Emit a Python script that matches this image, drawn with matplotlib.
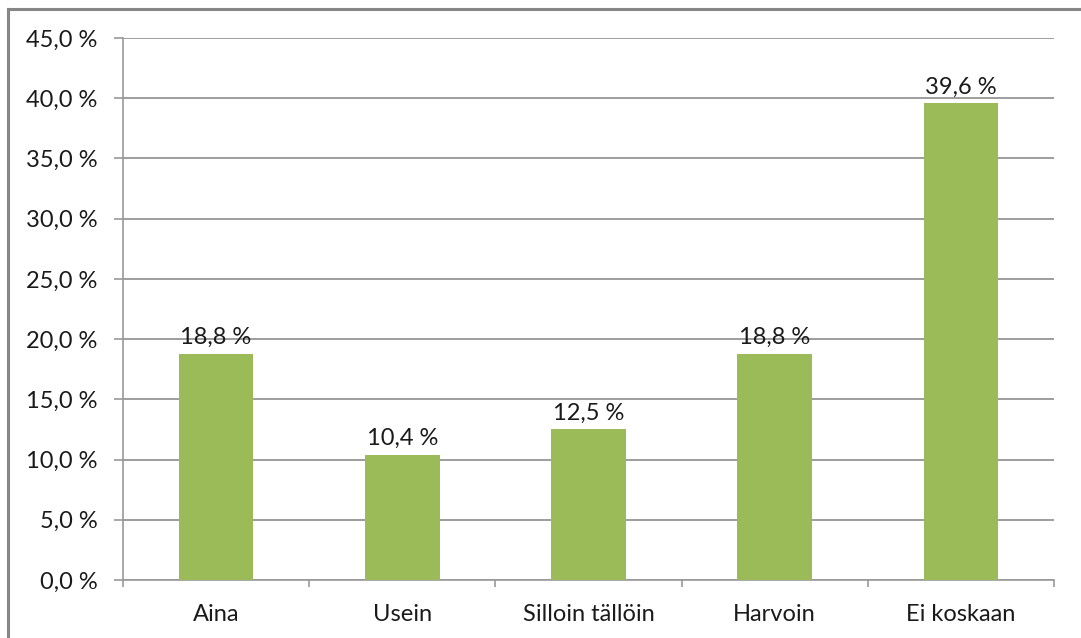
import matplotlib.pyplot as plt
from matplotlib.lines import Line2D

plt.rcParams['font.family'] = ['Lato', 'DejaVu Sans']

categories = ['Aina', 'Usein', 'Silloin tällöin', 'Harvoin', 'Ei koskaan']
values = [18.8, 10.4, 12.5, 18.8, 39.6]
yticks = [0, 5, 10, 15, 20, 25, 30, 35, 40, 45]


def fi_pct(v):
    return ('%.1f' % v).replace('.', ',') + ' %'


fig = plt.figure(figsize=(10.81, 6.38), dpi=100)
ax = fig.add_axes([123 / 1081, 1 - 580 / 638, (1054 - 123) / 1081, (580 - 38) / 638])

x = range(len(categories))
bars = ax.bar(x, values, width=0.40, color='#9BBB59', zorder=3)
for b, v in zip(bars, values):
    ax.text(b.get_x() + b.get_width() / 2, v + 0.45, fi_pct(v),
            ha='center', va='bottom', fontsize=17, color='#1a1a1a')

ax.set_xlim(-0.5, len(categories) - 0.5)
ax.set_ylim(0, 45)
ax.set_yticks(yticks)
ax.set_yticklabels([fi_pct(t) for t in yticks], fontsize=17, color='#1a1a1a')
ax.set_xticks(list(x))
ax.set_xticklabels(categories, fontsize=17, color='#1a1a1a')
ax.set_xticks([i - 0.5 for i in range(len(categories) + 1)], minor=True)
ax.tick_params(axis='x', which='major', length=0, pad=17)
ax.tick_params(axis='x', which='minor', length=5, color='#999999', width=1.2)
ax.tick_params(axis='y', length=6.5, color='#999999', width=1.2, pad=12)

ax.grid(axis='y', color='#8c8c8c', linewidth=1.2, zorder=0)
for s in ['top', 'right']:
    ax.spines[s].set_visible(False)
for s in ['left', 'bottom']:
    ax.spines[s].set_color('#999999')
    ax.spines[s].set_linewidth(1.2)

# outer chart frame
fig.add_artist(Line2D([8 / 1081, 8 / 1081], [0, 1 - 9 / 638],
                      transform=fig.transFigure, color='#868686', linewidth=2.2))
fig.add_artist(Line2D([8 / 1081, 1], [1 - 9 / 638, 1 - 9 / 638],
                      transform=fig.transFigure, color='#868686', linewidth=2.2))

fig.savefig('out.png', dpi=100)
